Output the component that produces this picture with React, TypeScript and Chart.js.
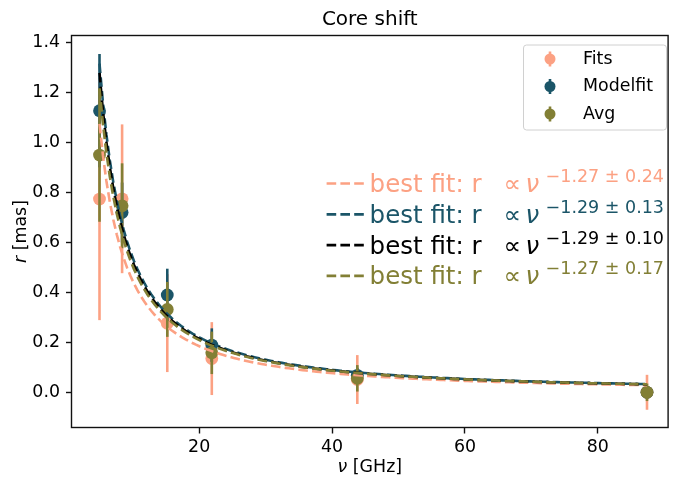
import React, { useEffect, useRef } from 'react';
import { Chart, registerables } from 'chart.js';

Chart.register(...registerables);

// ---- data ----
const frequencies = [5.0, 8.4, 15.2, 21.9, 43.8, 87.4];
const fitsValues = [0.774, 0.775, 0.277, 0.135, 0.051, 0.0];
const fitsErrors = [0.485, 0.298, 0.196, 0.146, 0.098, 0.07];
const modelfitValues = [1.128, 0.72, 0.39, 0.189, 0.068, 0.0];
const modelfitErrors = [0.227, 0.12, 0.105, 0.067, 0.03, 0.025];
const avgValues = [0.95, 0.747, 0.332, 0.158, 0.056, 0.0];
const avgErrors = [0.267, 0.17, 0.11, 0.085, 0.053, 0.035];
const seriesNames = ['Fits', 'Modelfit', 'Avg'];

// power-law fits r = A * nu^-k (Fits, Modelfit, combined, Avg)
const fitAmplitudes = [8.3, 10.5, 10.2, 9.4];
const fitExponents = [1.27, 1.29, 1.29, 1.27];
const fitExponentErrors = [0.24, 0.13, 0.1, 0.17];
const fitRange = [5.0, 87.4];

const xTicks = [20, 40, 60, 80];
const yTicks = [0.0, 0.2, 0.4, 0.6, 0.8, 1.0, 1.2, 1.4];
const xLimits = [0.86, 90.5];
const yLimits = [-0.141, 1.429];

const chartTitle = 'Core shift';

// ---- styles ----
const SALMON = '#fca183';
const TEAL = '#1b5568';
const BLACK = '#000000';
const OLIVE = '#827f35';
const pointColors = [SALMON, TEAL, OLIVE];
const fitColors = [SALMON, TEAL, BLACK, OLIVE];
const FONT = '"DejaVu Sans", "Liberation Sans", sans-serif';
const FS = 17.4;
const DASH = [9.6, 4.2];

function fitCurve(i: number) {
  const n = 160;
  const pts: { x: number; y: number }[] = [];
  for (let j = 0; j < n; j++) {
    const x = fitRange[0] + ((fitRange[1] - fitRange[0]) * j) / (n - 1);
    pts.push({ x, y: fitAmplitudes[i] * Math.pow(x, -fitExponents[i]) });
  }
  return pts;
}

const errorBarPlugin = {
  id: 'errorBars',
  beforeDatasetDraw(chart: any, args: any) {
    const ds: any = chart.data.datasets[args.index];
    if (!ds.errorValues) return;
    const { ctx, scales } = chart;
    const xs = scales.x;
    const ys = scales.y;
    ctx.save();
    ctx.strokeStyle = ds.backgroundColor;
    ctx.lineWidth = 2.6;
    ds.data.forEach((p: any, i: number) => {
      const px = xs.getPixelForValue(p.x);
      ctx.beginPath();
      ctx.moveTo(px, ys.getPixelForValue(p.y - ds.errorValues[i]));
      ctx.lineTo(px, ys.getPixelForValue(p.y + ds.errorValues[i]));
      ctx.stroke();
    });
    ctx.restore();
  },
};

function mixedText(ctx: any, parts: [string, boolean][], cx: number, y: number, size: number) {
  let total = 0;
  const widths = parts.map(([t, it]) => {
    ctx.font = `${it ? 'italic ' : ''}${size}px ${FONT}`;
    const w = ctx.measureText(t).width;
    total += w;
    return w;
  });
  let x = cx - total / 2;
  ctx.textAlign = 'left';
  parts.forEach(([t, it], k) => {
    ctx.font = `${it ? 'italic ' : ''}${size}px ${FONT}`;
    ctx.fillText(t, x, y);
    x += widths[k];
  });
}

const decorPlugin = {
  id: 'decor',
  afterDatasetsDraw(chart: any) {
    const { ctx, chartArea: a } = chart;
    ctx.save();
    ctx.strokeStyle = '#111';
    ctx.lineWidth = 1.4;
    ctx.strokeRect(a.left - 0.5, a.top, a.right - a.left + 1, a.bottom - a.top);
    ctx.restore();
  },
  afterDraw(chart: any) {
    const { ctx, chartArea: a } = chart;
    const cx = (a.left + a.right) / 2;
    ctx.save();
    // title
    ctx.fillStyle = '#000';
    ctx.font = `20px ${FONT}`;
    ctx.textAlign = 'center';
    ctx.textBaseline = 'alphabetic';
    ctx.fillText(chartTitle, cx, 25);

    // axis titles
    ctx.textBaseline = 'middle';
    mixedText(ctx, [['ν', true], [' [GHz]', false]], cx, 467.5, FS);
    ctx.save();
    ctx.translate(21.5, (a.top + a.bottom) / 2);
    ctx.rotate(-Math.PI / 2);
    mixedText(ctx, [['r', true], [' [mas]', false]], 0, 0, FS);
    ctx.restore();

    // fit annotations
    const x0 = a.right - 341;
    for (let i = 0; i < fitColors.length; i++) {
      const base = 192 + i * 30.8;
      const col = fitColors[i];
      ctx.strokeStyle = col;
      ctx.fillStyle = col;
      ctx.lineWidth = 2.7;
      ctx.setLineDash(DASH);
      ctx.beginPath();
      ctx.moveTo(x0, base - 8.5);
      ctx.lineTo(x0 + 40, base - 8.5);
      ctx.stroke();
      ctx.setLineDash([]);
      ctx.textAlign = 'left';
      ctx.textBaseline = 'alphabetic';
      ctx.font = `24.5px ${FONT}`;
      ctx.fillText('best fit: r', x0 + 43, base);
      ctx.fillText('∝', x0 + 177, base);
      ctx.font = `italic 24.5px ${FONT}`;
      ctx.fillText('ν', x0 + 199, base);
      ctx.font = `17.5px ${FONT}`;
      ctx.fillText(
        `−${fitExponents[i].toFixed(2)} ± ${fitExponentErrors[i].toFixed(2)}`,
        x0 + 219,
        base - 10
      );
    }

    // legend box
    const bx = 523.5;
    const by = 45;
    const bw = 143;
    const bh = 85;
    const r = 3;
    ctx.beginPath();
    ctx.moveTo(bx + r, by);
    ctx.arcTo(bx + bw, by, bx + bw, by + bh, r);
    ctx.arcTo(bx + bw, by + bh, bx, by + bh, r);
    ctx.arcTo(bx, by + bh, bx, by, r);
    ctx.arcTo(bx, by, bx + bw, by, r);
    ctx.closePath();
    ctx.fillStyle = 'rgba(255,255,255,0.8)';
    ctx.fill();
    ctx.strokeStyle = '#d0d0d0';
    ctx.lineWidth = 1;
    ctx.stroke();
    for (let i = 0; i < seriesNames.length; i++) {
      const yy = 59 + i * 27.5;
      ctx.strokeStyle = pointColors[i];
      ctx.lineWidth = 2.6;
      ctx.beginPath();
      ctx.moveTo(550, yy - 7.5);
      ctx.lineTo(550, yy + 7.5);
      ctx.stroke();
      ctx.fillStyle = pointColors[i];
      ctx.beginPath();
      ctx.arc(550, yy, 5.5, 0, Math.PI * 2);
      ctx.fill();
      ctx.fillStyle = '#000';
      ctx.font = `${FS}px ${FONT}`;
      ctx.textAlign = 'left';
      ctx.textBaseline = 'middle';
      ctx.fillText(seriesNames[i], 583, yy);
    }
    ctx.restore();
  },
};

export default function App() {
  const ref = useRef<HTMLCanvasElement>(null);
  useEffect(() => {
    const canvas = ref.current;
    if (!canvas) return;
    Chart.defaults.font.family = FONT;
    const pointSets = [
      { v: fitsValues, e: fitsErrors },
      { v: modelfitValues, e: modelfitErrors },
      { v: avgValues, e: avgErrors },
    ];
    const curveDatasets = fitColors.map((c, i) => ({
      label: 'fit' + i,
      data: fitCurve(i),
      showLine: true,
      borderColor: c,
      backgroundColor: c,
      borderWidth: 2.6,
      borderDash: DASH,
      pointRadius: 0,
      pointHoverRadius: 0,
      tension: 0,
      order: fitColors.length - 1 - i,
    }));
    const pointDatasets = pointSets.map((s, i) => ({
      label: seriesNames[i],
      data: frequencies.map((f, j) => ({ x: f, y: s.v[j] })),
      errorValues: s.e,
      showLine: false,
      backgroundColor: pointColors[i],
      borderColor: pointColors[i],
      pointBackgroundColor: pointColors[i],
      pointBorderWidth: 0,
      pointRadius: 6.4,
      pointHoverRadius: 6.4,
      order: 10 - i,
    }));
    const tickFont = { family: FONT, size: FS };
    const gridOpts = {
      drawOnChartArea: false,
      drawTicks: true,
      tickLength: 6,
      tickWidth: 1.4,
      tickColor: '#111',
    };
    const chart = new Chart(canvas, {
      type: 'scatter',
      data: { datasets: [...curveDatasets, ...pointDatasets] as any },
      plugins: [errorBarPlugin, decorPlugin],
      options: {
        responsive: false,
        animation: false,
        devicePixelRatio: 1,
        events: [],
        layout: { padding: { left: 0, right: 6, top: 35.5, bottom: 0 } },
        plugins: {
          legend: { display: false },
          tooltip: { enabled: false },
          title: { display: false },
        },
        scales: {
          x: {
            type: 'linear',
            min: xLimits[0],
            max: xLimits[1],
            afterBuildTicks: (s: any) => {
              s.ticks = xTicks.map((v) => ({ value: v }));
            },
            afterFit: (s: any) => {
              s.height = 59.5;
            },
            border: { display: false },
            grid: gridOpts,
            ticks: {
              font: tickFont,
              color: '#000',
              padding: 4,
              maxRotation: 0,
              autoSkip: false,
              callback: (v: any) => String(v),
            },
          },
          y: {
            type: 'linear',
            min: yLimits[0],
            max: yLimits[1],
            afterBuildTicks: (s: any) => {
              s.ticks = yTicks.map((v) => ({ value: v }));
            },
            afterFit: (s: any) => {
              s.width = 72;
            },
            border: { display: false },
            grid: gridOpts,
            ticks: {
              font: tickFont,
              color: '#000',
              padding: 6,
              autoSkip: false,
              callback: (v: any) => Number(v).toFixed(1),
            },
          },
        },
      } as any,
    });
    return () => chart.destroy();
  }, []);
  return (
    <div style={{ position: 'absolute', left: 0, top: 0, width: 674, height: 487, background: '#fff' }}>
      <canvas ref={ref} width={674} height={487} style={{ display: 'block', width: 674, height: 487 }} />
    </div>
  );
}
